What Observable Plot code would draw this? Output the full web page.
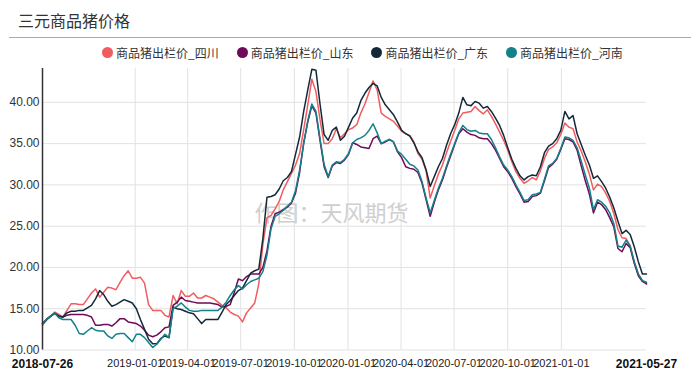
<!DOCTYPE html>
<html><head><meta charset="utf-8">
<script src="https://cdn.jsdelivr.net/npm/d3@7"></script>
<script src="https://cdn.jsdelivr.net/npm/@observablehq/plot@0.6"></script>
<style>
body{margin:0;background:#fff;}
#wrap{position:relative;width:691px;height:385px;overflow:hidden;background:#fff;}
#title{position:absolute;left:18px;top:12px;font-size:16px;line-height:16px;color:#333;font-family:"Noto Sans CJK SC",sans-serif;white-space:nowrap;}
#sep{position:absolute;left:9px;right:0;top:37px;height:1px;background:#aaa;}
#legend{position:absolute;left:102px;top:44px;height:17px;display:flex;}
.leg{width:134.7px;height:17px;display:flex;align-items:center;font-size:12px;color:#333;font-family:"Noto Sans CJK SC",sans-serif;white-space:nowrap;}
.dot{width:11px;height:11px;border-radius:50%;margin-right:3px;flex:none;}
#chart{position:absolute;left:0;top:60px;}
</style></head>
<body>
<div id="wrap">
  <div id="title"></div>
  <div id="sep"></div>
  <div id="legend"></div>
  <div id="chart"></div>
</div>
<script>
const titleText = "三元商品猪价格";
const watermark = "作图：天风期货";
const seriesNames = ["商品猪出栏价_四川","商品猪出栏价_山东","商品猪出栏价_广东","商品猪出栏价_河南"];
const seriesColors = ["#f05c60","#6e0a57","#13293a","#13808a"];
const startDate = "2018-07-26";
const tickLabels = ["2018-07-26","2019-01-01","2019-04-01","2019-07-01","2019-10-01","2020-01-01","2020-04-01","2020-07-01","2020-10-01","2021-01-01","2021-05-27"];
const yTicks = [10,15,20,25,30,35,40];

// weekly values, 2018-07-26 .. 2021-05-27
const sichuan = [
13.0,13.6,14.1,14.6,14.3,14.0,14.8,15.6,15.6,15.5,
15.5,16.2,16.9,17.4,16.4,17.0,17.6,17.5,17.3,18.2,
19.0,19.6,18.7,18.7,18.8,18.1,15.5,14.8,14.8,14.8,
14.2,14.0,16.6,15.6,17.2,16.5,16.5,16.9,16.3,16.3,
16.6,16.4,16.2,15.8,15.4,15.1,14.6,14.3,14.1,13.4,
14.5,15.1,15.7,18.0,22.8,26.0,26.3,27.1,28.0,29.4,
30.4,31.4,32.4,33.8,36.7,39.7,42.8,41.3,37.9,35.0,
35.0,35.6,36.8,35.7,36.2,36.7,36.9,37.3,38.7,39.8,
41.2,42.6,41.5,38.7,38.3,38.0,37.7,37.1,36.5,36.2,
36.0,35.2,33.8,33.1,31.7,28.4,29.9,31.3,32.4,33.9,
35.3,36.6,38.0,38.7,38.8,38.9,39.5,39.0,38.6,39.1,
38.3,37.4,36.4,35.4,34.2,32.8,31.6,30.8,30.2,30.5,
30.9,30.6,31.7,33.2,34.3,34.6,35.1,36.1,37.5,37.0,
36.8,35.2,34.1,32.8,31.3,29.4,30.1,29.8,29.0,28.0,
26.5,24.6,23.6,23.5,22.6,20.6,19.2,18.4,18.0];
const shandong = [
13.2,13.7,14.1,14.45,14.1,14.0,14.2,14.3,14.3,14.3,
14.3,14.2,14.0,13.0,13.0,13.1,13.1,12.9,13.3,13.8,
13.8,13.4,13.3,13.2,12.9,12.4,11.8,11.6,11.8,12.2,
12.7,12.8,15.4,15.8,16.4,16.0,15.9,15.8,15.7,15.7,
15.7,15.7,15.6,15.5,15.2,15.3,15.5,17.0,18.6,18.4,
18.9,19.2,19.2,19.2,20.0,22.0,25.0,26.5,26.7,27.0,
27.3,27.8,29.0,31.5,35.1,37.6,39.6,38.7,35.4,32.2,
30.9,32.3,32.7,32.6,33.0,33.7,35.1,34.9,34.6,34.5,
34.4,35.6,35.9,35.0,35.2,35.5,35.2,34.0,33.3,32.2,
32.0,31.9,31.5,30.2,28.2,26.2,27.9,29.4,30.6,32.1,
33.5,34.9,36.2,36.8,36.4,36.1,36.0,35.7,35.6,35.6,
35.0,34.2,33.2,32.2,31.6,30.8,29.8,28.9,27.9,28.0,
28.6,28.7,29.0,30.5,32.1,32.5,33.1,34.3,35.6,35.5,
35.2,34.2,32.3,30.5,28.9,26.6,27.9,27.6,27.0,26.0,
24.9,22.3,21.9,22.9,22.4,20.5,19.0,18.3,18.0];
const guangdong = [
13.2,13.7,14.1,14.45,14.1,14.0,14.5,14.7,14.7,14.8,
14.8,15.1,15.4,16.2,17.2,16.7,15.9,15.3,15.5,15.8,
16.1,15.9,15.7,15.0,13.7,12.5,11.3,10.75,10.75,11.4,
11.7,11.5,15.2,15.0,14.9,14.7,14.5,14.4,13.8,13.2,
13.7,13.7,13.7,13.7,14.6,15.5,16.0,16.6,17.2,17.5,
18.4,19.3,19.6,19.8,23.5,28.5,28.6,28.8,29.5,30.5,
30.9,31.6,33.7,35.8,38.9,41.5,44.0,43.9,39.8,36.1,
35.4,36.6,37.0,35.4,35.9,37.0,38.1,38.7,40.2,41.1,
41.8,42.3,42.0,40.6,39.7,39.1,38.5,37.6,36.6,36.2,
35.9,35.1,34.0,33.3,31.8,29.8,31.0,32.2,33.2,34.8,
36.2,37.3,38.7,40.6,39.7,39.6,40.1,39.9,39.3,39.5,
38.9,38.1,37.2,36.0,34.5,33.1,32.0,31.1,30.6,31.0,
31.2,31.1,32.2,33.9,34.7,35.0,35.6,36.6,38.9,38.0,
38.4,36.2,34.9,33.6,32.4,30.8,31.1,30.4,29.6,28.5,
27.2,25.6,24.1,24.5,24.0,22.5,20.7,19.2,19.2];
const henan = [
13.2,13.7,14.1,14.45,13.9,13.7,13.7,13.7,13.0,12.0,
11.9,12.3,12.7,12.4,12.3,12.3,11.7,11.4,11.9,12.0,
12.0,11.5,11.0,11.9,11.9,11.5,10.9,10.3,10.7,11.3,
11.9,11.5,15.0,15.3,15.7,15.2,14.8,14.7,14.7,14.8,
14.8,14.8,14.8,14.8,15.2,15.8,16.6,17.3,17.8,17.4,
17.9,18.3,18.5,18.7,19.5,21.5,24.7,26.2,26.5,26.9,
27.4,27.9,29.3,31.8,35.0,37.8,39.8,38.9,35.6,32.5,
31.0,32.4,32.8,32.7,33.1,33.8,35.1,35.5,35.7,36.0,
36.6,37.4,36.3,35.0,35.3,35.5,35.2,34.1,33.7,33.1,
32.5,32.3,31.8,30.4,28.4,26.6,28.1,29.6,30.8,32.3,
33.7,35.0,36.3,37.2,36.7,36.5,36.6,36.3,36.2,36.2,
35.5,34.5,33.4,32.4,31.8,31.0,30.0,29.1,28.1,28.2,
28.8,28.9,29.1,30.7,32.3,32.6,33.2,34.4,35.8,35.7,
35.4,34.5,32.9,31.2,29.6,27.0,28.2,27.9,27.4,26.6,
25.3,22.6,22.45,23.3,22.6,20.7,19.2,18.4,18.2];
const seriesValues = [sichuan, shandong, guangdong, henan];

document.getElementById("title").textContent = titleText;
const legend = document.getElementById("legend");
seriesNames.forEach((n, i) => {
  const it = document.createElement("div"); it.className = "leg";
  const dot = document.createElement("span"); dot.className = "dot"; dot.style.background = seriesColors[i];
  const t = document.createElement("span"); t.textContent = n;
  it.appendChild(dot); it.appendChild(t); legend.appendChild(it);
});

const start = new Date(startDate);
const rows = [];
seriesNames.forEach((name, s) => {
  seriesValues[s].forEach((v, i) => rows.push({date: d3.utcDay.offset(start, 7 * i), value: v, series: name}));
});
const tickDates = tickLabels.map(d => new Date(d));
const fmt = d3.utcFormat("%Y-%m-%d");

const chart = Plot.plot({
  width: 691, height: 325,
  marginLeft: 42, marginRight: 45, marginTop: 8, marginBottom: 35.5,
  style: {fontFamily: "'Liberation Sans', Arial, sans-serif", fontSize: "12px", color: "#333", background: "transparent", overflow: "visible"},
  x: {type: "utc", domain: [tickDates[0], tickDates[tickDates.length - 1]]},
  y: {domain: [10, 44.1]},
  color: {domain: seriesNames, range: seriesColors},
  marks: [
    Plot.gridY(yTicks, {stroke: "#e2e2e2", strokeOpacity: 1}),
    Plot.gridX(tickDates.slice(1, -1), {stroke: "#e2e2e2", strokeOpacity: 1}),
    Plot.text([watermark], {frameAnchor: "middle", dx: -13, dy: 5, fontSize: 22, fill: "#cfcfcf", fontFamily: "Noto Sans CJK SC"}),
    Plot.lineY(rows, {x: "date", y: "value", z: "series", stroke: "series", strokeWidth: 1.5}),
    Plot.ruleX([tickDates[0]], {stroke: "#333", strokeWidth: 1.5}),
    Plot.axisY(yTicks, {tickSize: 0, tickPadding: 3, tickFormat: d => d.toFixed(2), fontSize: 12, label: null, fill: "#333"}),
    Plot.axisX(tickDates.slice(1, -1), {tickSize: 0, tickPadding: 9, tickFormat: fmt, fontSize: 11, label: null, fill: "#222"}),
    Plot.axisX([tickDates[0], tickDates[tickDates.length - 1]], {tickSize: 0, tickPadding: 9, tickFormat: fmt, fontSize: 12, fontWeight: "bold", label: null, fill: "#111"})
  ]
});
document.getElementById("chart").appendChild(chart);
</script>
</body></html>
